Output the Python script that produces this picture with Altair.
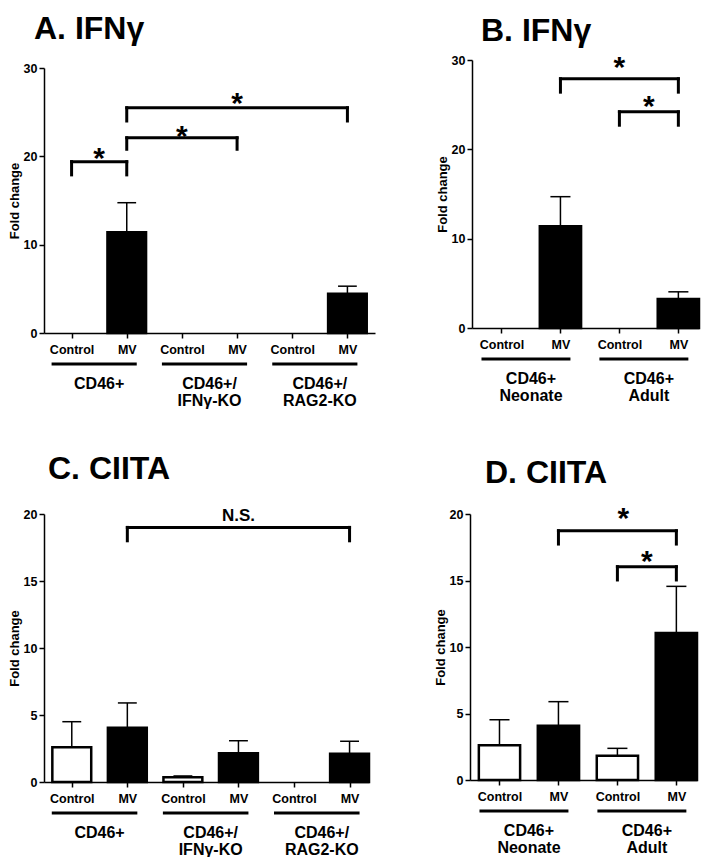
import json
import altair as alt
import pandas as pd

FONT = "Liberation Sans"

# ---------------- Panel A: IFNγ ----------------
a_title = "A. IFNγ"
a_labels = ["Control", "MV", "Control", "MV", "Control", "MV"]
a_groups = ["CD46+", "CD46+/\nIFNγ-KO", "CD46+/\nRAG2-KO"]
a_mean = [0, 11.4, 0, 0, 0, 4.45]
a_err = [0, 14.75, 0, 0, 0, 5.3]
a_br_from = [0, 1, 1]
a_br_to = [1, 3, 5]
a_br_y = [19.4, 22.1, 25.5]
a_br_leg = [17.9, 20.8, 24.0]
a_br_text = ["*", "*", "*"]
a_br_tx = [0.5, 2.0, 3.0]
a_br_ty = [20.6, 23.1, 26.8]

# ---------------- Panel B: IFNγ ----------------
b_title = "B. IFNγ"
b_labels = ["Control", "MV", "Control", "MV"]
b_groups = ["CD46+\nNeonate", "CD46+\nAdult"]
b_mean = [0, 11.4, 0, 3.25]
b_err = [0, 14.7, 0, 4.05]
b_br_from = [1, 2]
b_br_to = [3, 3]
b_br_y = [27.9, 24.2]
b_br_leg = [26.4, 22.7]
b_br_text = ["*", "*"]
b_br_tx = [2.0, 2.5]
b_br_ty = [30.0, 25.6]

# ---------------- Panel C: CIITA ----------------
c_title = "C. CIITA"
c_labels = ["Control", "MV", "Control", "MV", "Control", "MV"]
c_groups = ["CD46+", "CD46+/\nIFNγ-KO", "CD46+/\nRAG2-KO"]
c_mean = [2.6, 4.05, 0.35, 2.15, 0, 2.1]
c_err = [4.5, 5.9, 0.45, 3.08, 0, 3.04]
c_br_from = [1]
c_br_to = [5]
c_br_y = [19.0]
c_br_leg = [18.0]
c_br_text = ["N.S."]
c_br_tx = [3.0]
c_br_ty = [19.9]

# ---------------- Panel D: CIITA ----------------
d_title = "D. CIITA"
d_labels = ["Control", "MV", "Control", "MV"]
d_groups = ["CD46+\nNeonate", "CD46+\nAdult"]
d_mean = [2.62, 4.07, 1.83, 11.05]
d_err = [4.53, 5.89, 2.38, 14.56]
d_br_from = [1, 2]
d_br_to = [3, 3]
d_br_y = [18.74, 16.04]
d_br_leg = [17.74, 15.04]
d_br_text = ["*", "*"]
d_br_tx = [2.1, 2.5]
d_br_ty = [20.2, 17.0]


def panel(title, labels, groups, mean, err, bfrom, bto, by, bleg, btext, btx, bty,
          ymax, ystep, xmax, width, height, ytop, title_dx, title_offset):
    n = len(labels)
    xscale = alt.Scale(domain=[-0.5, xmax], nice=False, zero=False)
    xaxis = alt.Axis(values=list(range(n)),
                     labelExpr=f"{json.dumps(labels)}[datum.value]",
                     title=None, grid=False, tickSize=5, labelPadding=5,
                     labelAngle=0)
    yscale = alt.Scale(domain=[0, ymax], nice=False, range=[height, ytop])
    yaxis = alt.Axis(values=list(range(0, ymax + 1, ystep)), title="Fold change",
                     grid=False, tickSize=5, labelPadding=2, titlePadding=2)

    def X(f):
        return alt.X(f, type="quantitative", scale=xscale, axis=xaxis)

    def Y(f):
        return alt.Y(f, type="quantitative", scale=yscale, axis=yaxis)

    df = pd.DataFrame({"pos": list(range(n)), "mean": mean, "err": err, "treat": labels})
    base = alt.Chart(df)

    bars = base.transform_filter("datum.mean > 0").transform_calculate(
        x0="datum.pos - 0.35", x1="datum.pos + 0.35", zero="0"
    ).mark_bar(stroke="black", strokeWidth=2.5).encode(
        x=X("x0"), x2=alt.X2("x1"), y=Y("mean"), y2=alt.Y2("zero"),
        fill=alt.Fill("treat:N", scale=alt.Scale(domain=["Control", "MV"],
                                                  range=["white", "black"]), legend=None),
    )
    errline = base.transform_filter("datum.err > datum.mean").mark_rule(
        color="black", strokeWidth=1.5
    ).encode(x=X("pos"), y=Y("mean"), y2=alt.Y2("err"))
    errcap = base.transform_filter("datum.err > datum.mean").transform_calculate(
        c0="datum.pos - 0.17", c1="datum.pos + 0.17"
    ).mark_rule(color="black", strokeWidth=1.5).encode(
        x=X("c0"), x2=alt.X2("c1"), y=Y("err"))

    bdf = pd.DataFrame({"bf": bfrom, "bt": bto, "by": by, "bl": bleg,
                        "text": btext, "tx": btx, "ty": bty})
    bbase = alt.Chart(bdf)
    hline = bbase.mark_rule(color="black", strokeWidth=3, strokeCap="square").encode(
        x=X("bf"), x2=alt.X2("bt"), y=Y("by"))
    legs = bbase.transform_fold(["bf", "bt"], as_=["side", "lx"]).mark_rule(
        color="black", strokeWidth=3, strokeCap="square"
    ).encode(x=X("lx"), y=Y("by"), y2=alt.Y2("bl"))
    stars = bbase.transform_filter("datum.text == '*'").mark_text(
        font=FONT, fontSize=30, fontWeight="bold", baseline="alphabetic",
        dy=17, color="black"
    ).encode(x=X("tx"), y=Y("ty"), text="text:N")
    other = bbase.transform_filter("datum.text != '*'").mark_text(
        font=FONT, fontSize=17, fontWeight="bold", baseline="alphabetic",
        dy=6, color="black"
    ).encode(x=X("tx"), y=Y("ty"), text="text:N")

    gdf = pd.DataFrame({"gs": [2 * i for i in range(len(groups))],
                        "ge": [2 * i + 1 for i in range(len(groups))],
                        "gx": [2 * i + 0.5 for i in range(len(groups))],
                        "label": groups})
    gbase = alt.Chart(gdf)
    underline = gbase.mark_rule(color="black", strokeWidth=3, xOffset=-20,
                                x2Offset=10).encode(
        x=X("gs"), x2=alt.X2("ge"), y=alt.value(height + 31))
    gtext = gbase.mark_text(font=FONT, fontSize=16, fontWeight="bold",
                            baseline="alphabetic", lineBreak="\n", lineHeight=17,
                            color="black").encode(
        x=X("gx"), y=alt.value(height + 56), text="label:N")

    return alt.layer(bars, errline, errcap, hline, legs, stars, other,
                     underline, gtext).properties(
        width=width, height=height,
        title=alt.TitleParams(title, anchor="start", frame="group", dx=title_dx,
                              offset=title_offset),
    )


A = panel(a_title, a_labels, a_groups, a_mean, a_err, a_br_from, a_br_to, a_br_y,
          a_br_leg, a_br_text, a_br_tx, a_br_ty, 30, 10, 5.5, 331, 273, 8, -10, 14)
B = panel(b_title, b_labels, b_groups, b_mean, b_err, b_br_from, b_br_to, b_br_y,
          b_br_leg, b_br_text, b_br_tx, b_br_ty, 30, 10, 3.35, 227, 268, 0, 9, 5)
C = panel(c_title, c_labels, c_groups, c_mean, c_err, c_br_from, c_br_to, c_br_y,
          c_br_leg, c_br_text, c_br_tx, c_br_ty, 20, 5, 5.35, 325, 268, 0, 4, 21)
D = panel(d_title, d_labels, d_groups, d_mean, d_err, d_br_from, d_br_to, d_br_y,
          d_br_leg, d_br_text, d_br_tx, d_br_ty, 20, 5, 3.35, 227, 266, 0, 15, 14)

top = alt.hconcat(A, B, spacing=61)
bottom = alt.hconcat(C, D, spacing=63)

chart = alt.vconcat(top, bottom, spacing=44).properties(
    padding={"left": 0, "top": 5, "right": 0, "bottom": 0}
).configure_view(stroke=None).configure_axis(
    domainColor="black", domainWidth=1.5, tickColor="black", tickWidth=1.5,
    labelColor="black", labelFont=FONT, labelFontWeight="bold", labelFontSize=12.5,
    titleColor="black", titleFont=FONT, titleFontWeight="bold", titleFontSize=13,
).configure_title(
    font=FONT, fontSize=32, fontWeight="bold", color="black", anchor="start"
)

chart.save("out.html", embed_options={"renderer": "svg", "actions": False})
